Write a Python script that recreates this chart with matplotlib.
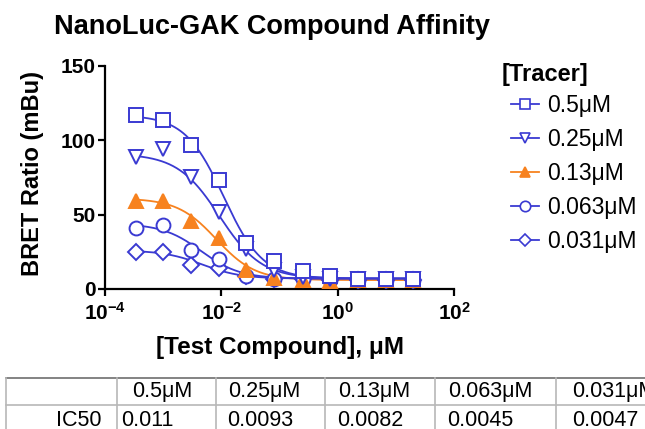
import numpy as np
import matplotlib
matplotlib.use("Agg")
import matplotlib.pyplot as plt
from matplotlib.lines import Line2D

plt.rcParams['font.family'] = ['Liberation Sans', 'DejaVu Sans']
plt.rcParams['mathtext.fontset'] = 'custom'
plt.rcParams['mathtext.rm'] = 'Liberation Sans'
plt.rcParams['mathtext.bf'] = 'Liberation Sans:bold'

# test compound concentrations (uM), 3-fold dilution
conc = [0.00034, 0.0010, 0.0030, 0.0091, 0.027, 0.082, 0.25, 0.74, 2.2, 6.7, 20]

# BRET ratio (mBu) for each tracer concentration
tracer_labels = ['0.5\u03bcM', '0.25\u03bcM', '0.13\u03bcM', '0.063\u03bcM', '0.031\u03bcM']
bret_05 = [117, 114, 97, 73, 31, 19, 12, 9, 7, 7, 7]
bret_025 = [89, 94, 75, 52, 27, 13, 8, 7, 7, 7, 7]
bret_013 = [59, 59, 46, 34, 13, 7.5, 6, 5.5, 6, 6, 6]
bret_0063 = [41, 43, 26, 20, 9, 7, 6.5, 6, 6, 6, 6]
bret_0031 = [25, 25, 16, 14, 9, 7, 6.5, 6, 6, 6, 6]

# curve fit parameters (top, bottom, IC50, hill)
fit_top = [117, 91, 61, 44, 26]
fit_bottom = [7, 7, 6, 7, 7]
fit_hill = [1.3, 1.2, 1.3, 1.3, 1.3]
ic50 = [0.011, 0.0093, 0.0082, 0.0045, 0.0047]
ic50_text = ['0.011', '0.0093', '0.0082', '0.0045', '0.0047']

blue = '#3a3ad2'
orange = '#f7821f'
colors = [blue, blue, orange, blue, blue]
markers = ['s', 'v', '^', 'o', 'D']
msizes = [10, 10.5, 10.5, 10, 8]
faces = ['white', 'white', orange, 'white', 'white']
series = [bret_05, bret_025, bret_013, bret_0063, bret_0031]

fig = plt.figure(figsize=(6.45, 4.29), dpi=100)
ax = fig.add_axes([105/645, 1 - 289/429, 349/645, 223/429])

xs = np.logspace(np.log10(conc[0]), np.log10(conc[-1]), 300)
for i in reversed(range(5)):
    curve = fit_bottom[i] + (fit_top[i] - fit_bottom[i]) / (1 + (xs / ic50[i]) ** fit_hill[i])
    ax.plot(xs, curve, color=colors[i], lw=1.3, zorder=2 + i * 0.01)
for i in reversed(range(5)):
    ax.plot(conc, series[i], ls='none', marker=markers[i], ms=msizes[i],
            mfc=faces[i], mec=colors[i], mew=1.4, zorder=3 + (5 - i))

ax.set_xscale('log')
ax.set_xlim(1e-4, 1e2)
ax.set_ylim(0, 150)
ax.set_xticks([1e-4, 1e-2, 1e0, 1e2])
ax.set_xticklabels([r'$\mathbf{10^{-4}}$', r'$\mathbf{10^{-2}}$', r'$\mathbf{10^{0}}$', r'$\mathbf{10^{2}}$'])
ax.xaxis.set_minor_locator(matplotlib.ticker.NullLocator())
ax.set_yticks([0, 50, 100, 150])
for sp in ['top', 'right']:
    ax.spines[sp].set_visible(False)
for sp in ['left', 'bottom']:
    ax.spines[sp].set_linewidth(1.6)
ax.tick_params(width=1.6, length=5, labelsize=15, pad=2)
ax.tick_params(axis='x', pad=4)
for lab in ax.get_yticklabels():
    lab.set_fontweight('bold')

ax.set_ylabel('BRET Ratio (mBu)', fontsize=17, fontweight='bold')
ax.yaxis.set_label_coords(-0.175, 0.52)
ax.set_xlabel('[Test Compound], \u03bcM', fontsize=17.5, fontweight='bold', labelpad=9)
fig.text(272/645, 1 - 27/429, 'NanoLuc-GAK Compound Affinity', fontsize=19.5,
         fontweight='bold', ha='center', va='center')

# legend: title as its own text, entries below
fig.text(502/645, 1 - 75/429, '[Tracer]', fontsize=17, fontweight='bold',
         ha='left', va='center')
handles = [Line2D([], [], color=colors[i], lw=1.3, marker=markers[i], ms=msizes[i] * 0.75,
                  mfc=faces[i], mec=colors[i], mew=1.2) for i in range(5)]
leg = fig.legend(handles, tracer_labels, loc='upper left', bbox_to_anchor=(500/645, 1 - 83/429),
                 frameon=False, fontsize=16.5,
                 handlelength=1.2, handletextpad=0.35, labelspacing=0.48, borderpad=0)

# table below the chart, in pixel coordinates
tab = fig.add_axes([0, 0, 1, 1], zorder=-1)
tab.set_xlim(0, 645)
tab.set_ylim(429, 0)
tab.axis('off')
col_lines = [6, 117, 216, 325, 435, 556]
tab.plot([6, 645], [378, 378], color='#7a7a7a', lw=1.3)
tab.plot([6, 645], [405, 405], color='#b8b8b8', lw=1.2)
for cx in col_lines:
    tab.plot([cx, cx], [378, 429], color='#b8b8b8', lw=1.2)
head_x = [132, 228, 338, 448, 572]
data_x = [121, 227, 337, 447, 572]
for i in range(5):
    tab.text(head_x[i], 392, tracer_labels[i], fontsize=15.5, ha='left', va='center')
    tab.text(data_x[i], 420, ic50_text[i], fontsize=15.5, ha='left', va='center')
tab.text(101, 420, 'IC50', fontsize=15.5, ha='right', va='center')

fig.savefig('out.png', dpi=100)
